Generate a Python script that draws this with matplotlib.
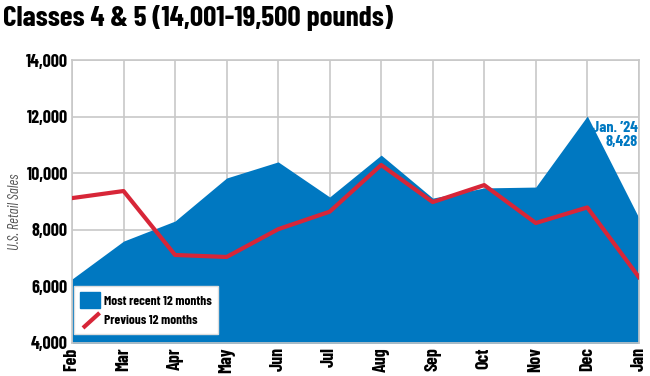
import matplotlib
matplotlib.use("Agg")
import matplotlib.pyplot as plt
from matplotlib.lines import Line2D
from matplotlib.patches import Patch
from matplotlib.legend_handler import HandlerBase

months = ["Feb", "Mar", "Apr", "May", "Jun", "Jul", "Aug", "Sep", "Oct", "Nov", "Dec", "Jan"]
recent = [6260, 7600, 8310, 9830, 10400, 9160, 10640, 9120, 9480, 9510, 12020, 8428]
previous = [9120, 9370, 7110, 7040, 8020, 8640, 10290, 8980, 9580, 8240, 8790, 6330]
yticks = [4000, 6000, 8000, 10000, 12000, 14000]
ytick_labels = ["4,000", "6,000", "8,000", "10,000", "12,000", "14,000"]

BLUE = "#0078C1"
RED = "#D72638"
FONT = ["Barlow Condensed", "DejaVu Sans"]

class DiagLineHandler(HandlerBase):
    def create_artists(self, legend, orig_handle, xdescent, ydescent, width, height, fontsize, trans):
        x0 = -xdescent + width * 0.15
        x1 = -xdescent + width * 0.98
        y0 = -ydescent + height * 0.0
        y1 = -ydescent + height * 0.95
        ln = Line2D([x0, x1], [y0, y1], color=orig_handle.get_color(),
                    linewidth=orig_handle.get_linewidth(), solid_capstyle="butt")
        ln.set_transform(trans)
        return [ln]

fig = plt.figure(figsize=(6.5, 3.76), dpi=100)
ax = fig.add_axes([0.1108, 0.0878, 0.872, 0.7526])

x = list(range(len(months)))
ax.fill_between(x, recent, 0, color=BLUE, linewidth=0, zorder=2)
ax.plot(x, previous, color=RED, linewidth=3, zorder=3)

ax.set_xlim(0, len(months) - 1)
ax.set_ylim(4000, 14000)
ax.set_yticks(yticks)
ax.set_yticklabels(ytick_labels)
ax.set_xticks(x)
ax.set_xticklabels(months, rotation=90, ha="center", va="top")
for lab in ax.get_xticklabels() + ax.get_yticklabels():
    lab.set_fontfamily(FONT)
    lab.set_fontweight("bold")
    lab.set_fontsize(13)
ax.tick_params(axis="both", length=0, pad=3)
ax.grid(True, color="#c8c8c8", linewidth=1.2, zorder=1)
ax.set_axisbelow(True)
for s in ax.spines.values():
    s.set_color("#c8c8c8")
    s.set_linewidth(1.2)

fig.text(15 / 650, 1 - 212 / 376, "U.S. Retail Sales", rotation=90, ha="center", va="center",
         fontsize=10.5, style="italic", color="#555555", family=FONT)

ax.text(len(months) - 1.02, 11830, "Jan. \u201924\n8,428", ha="right", va="top",
        color=BLUE, fontsize=11.5, fontweight="bold", family=FONT, linespacing=1.0, zorder=4)

fig.text(0.004, 0.952, "Classes 4 & 5 (14,001-19,500 pounds)", ha="left", va="center",
         fontsize=21, fontweight="bold", family=FONT)

handles = [Patch(facecolor=BLUE, edgecolor=BLUE),
           Line2D([], [], color=RED, linewidth=3)]
leg = ax.legend(handles, ["Most recent 12 months", "Previous 12 months"],
                loc="lower left", bbox_to_anchor=(0.0035, 0.032),
                prop={"family": FONT, "weight": "bold", "size": 9.6},
                handler_map={Line2D: DiagLineHandler()},
                frameon=True, fancybox=False, edgecolor="#dddddd", framealpha=1,
                handlelength=1.5, handleheight=1.45, borderpad=0.45, labelspacing=0.3,
                handletextpad=0.3, borderaxespad=0.0)
leg.set_zorder(5)

fig.savefig("out.png", dpi=100)
